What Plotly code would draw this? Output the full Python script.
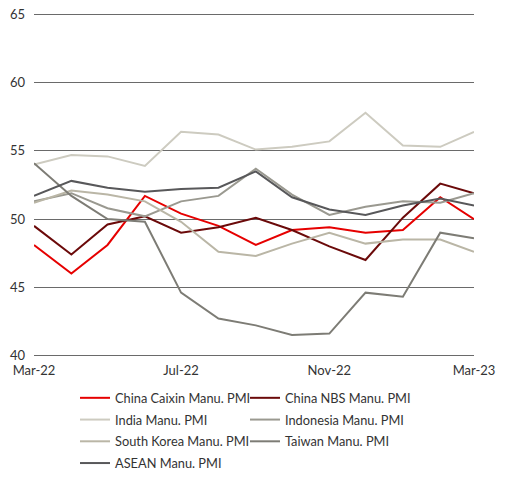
import plotly.graph_objects as go

months = ["2022-03-01", "2022-04-01", "2022-05-01", "2022-06-01", "2022-07-01",
          "2022-08-01", "2022-09-01", "2022-10-01", "2022-11-01", "2022-12-01",
          "2023-01-01", "2023-02-01", "2023-03-01"]

china_caixin = [48.1, 46.0, 48.1, 51.7, 50.4, 49.5, 48.1, 49.2, 49.4, 49.0, 49.2, 51.6, 50.0]
china_nbs = [49.5, 47.4, 49.6, 50.2, 49.0, 49.4, 50.1, 49.2, 48.0, 47.0, 50.1, 52.6, 51.9]
india = [54.0, 54.7, 54.6, 53.9, 56.4, 56.2, 55.1, 55.3, 55.7, 57.8, 55.4, 55.3, 56.4]
indonesia = [51.3, 51.9, 50.8, 50.2, 51.3, 51.7, 53.7, 51.8, 50.3, 50.9, 51.3, 51.2, 51.9]
south_korea = [51.2, 52.1, 51.8, 51.3, 49.8, 47.6, 47.3, 48.2, 49.0, 48.2, 48.5, 48.5, 47.6]
taiwan = [54.1, 51.7, 50.0, 49.8, 44.6, 42.7, 42.2, 41.5, 41.6, 44.6, 44.3, 49.0, 48.6]
asean = [51.7, 52.8, 52.3, 52.0, 52.2, 52.3, 53.5, 51.6, 50.7, 50.3, 51.0, 51.5, 51.0]

tick_vals = ["2022-03-01", "2022-07-01", "2022-11-01", "2023-03-01"]
tick_text = ["Mar-22", "Jul-22", "Nov-22", "Mar-23"]
y_ticks = [40, 45, 50, 55, 60, 65]

# (name, values, colour, legend column)
series = [
    ("China Caixin Manu. PMI", china_caixin, "#E60000", "legend"),
    ("China NBS Manu. PMI", china_nbs, "#6B0A0A", "legend2"),
    ("India Manu. PMI", india, "#CDCBC0", "legend"),
    ("Indonesia Manu. PMI", indonesia, "#9A9990", "legend2"),
    ("South Korea Manu. PMI", south_korea, "#BAB6A6", "legend"),
    ("Taiwan Manu. PMI", taiwan, "#7D7C75", "legend2"),
    ("ASEAN Manu. PMI", asean, "#58585A", "legend"),
]

fig = go.Figure()
for name, vals, color, leg in series:
    fig.add_trace(go.Scatter(x=months, y=vals, mode="lines", name=name,
                             legend=leg, legendgroup=name,
                             line=dict(color=color, width=2)))

font = "Lato"
legend_common = dict(orientation="v", yanchor="top", xanchor="left",
                     font=dict(family=font, size=12.8, color="#333333"),
                     bgcolor="rgba(0,0,0,0)", borderwidth=0,
                     traceorder="grouped", tracegroupgap=2.1)

fig.update_layout(
    width=508, height=480,
    margin=dict(l=34, r=34, t=13, b=123, autoexpand=False),
    paper_bgcolor="white", plot_bgcolor="white",
    font=dict(family=font, size=13, color="#333333"),
    showlegend=True,
    legend=dict(x=0.0932, y=-0.0756, **legend_common),
    legend2=dict(x=0.4795, y=-0.0756, **legend_common),
    xaxis=dict(type="date", range=["2022-03-01", "2023-03-01"],
               tickvals=tick_vals, ticktext=tick_text, showgrid=False,
               zeroline=False, showline=False, ticks="", automargin=False,
               ticklabelstandoff=4, tickfont=dict(size=13)),
    yaxis=dict(range=[39.88, 65.12], tickvals=y_ticks, showgrid=True,
               gridcolor="#6A6A6A", gridwidth=1.1, zeroline=False,
               showline=False, ticks="", automargin=False,
               ticklabelstandoff=8, tickfont=dict(size=13)),
)

fig.write_html("out.html", config={"displayModeBar": False},
               post_script="document.body.style.margin='0';")
